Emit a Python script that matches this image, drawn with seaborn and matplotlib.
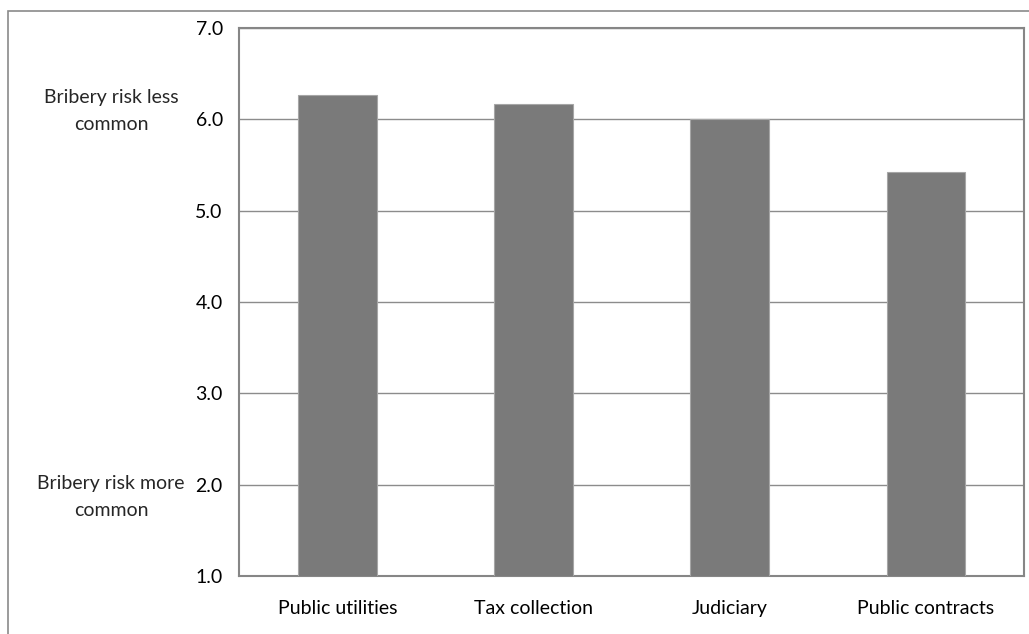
import pandas as pd
import matplotlib
matplotlib.use('Agg')
import matplotlib.pyplot as plt
from matplotlib.patches import Rectangle
import seaborn as sns

# Chart data
sectors = ['Public utilities', 'Tax collection', 'Judiciary', 'Public contracts']
scores = [6.27, 6.17, 6.00, 5.42]
yticks = [1.0, 2.0, 3.0, 4.0, 5.0, 6.0, 7.0]

df = pd.DataFrame({'sector': sectors, 'score': scores})

sns.set_style('white')
plt.rcParams['font.family'] = ['Lato', 'DejaVu Sans']

fig = plt.figure(figsize=(10.29, 6.34), dpi=100)
ax = fig.add_axes([0.2327, 0.0915, 0.7623, 0.8643])

# outer chart frame
fig.patches.append(Rectangle((8 / 1029, -0.1), 1.2, (634 - 11) / 634 + 0.1,
                             transform=fig.transFigure, fill=False,
                             edgecolor='#8a8a8a', linewidth=1.2))

sns.barplot(data=df, x='sector', y='score', ax=ax, color='#7a7a7a',
            saturation=1, width=0.4, edgecolor='#a6a6a6', linewidth=0.8,
            zorder=3)

ax.set_ylim(1.0, 7.0)
ax.set_yticks(yticks)
ax.set_yticklabels([f'{v:.1f}' for v in yticks])
ax.yaxis.grid(True, color='#8c8c8c', linewidth=1.0, zorder=0)
ax.set_axisbelow(True)
ax.set_xlabel('')
ax.set_ylabel('')
ax.tick_params(axis='both', length=0, labelsize=14, colors='black')
ax.tick_params(axis='y', pad=12)
ax.tick_params(axis='x', pad=17)
for s in ax.spines.values():
    s.set_color('#868686')
    s.set_linewidth(1.5)
    s.set_visible(True)

fig.text(0.108, 0.825, 'Bribery risk less\ncommon', ha='center', va='center',
         fontsize=14, linespacing=1.7)
fig.text(0.108, 0.216, 'Bribery risk more\ncommon', ha='center', va='center',
         fontsize=14, linespacing=1.7)

fig.savefig('out.png', dpi=100)
